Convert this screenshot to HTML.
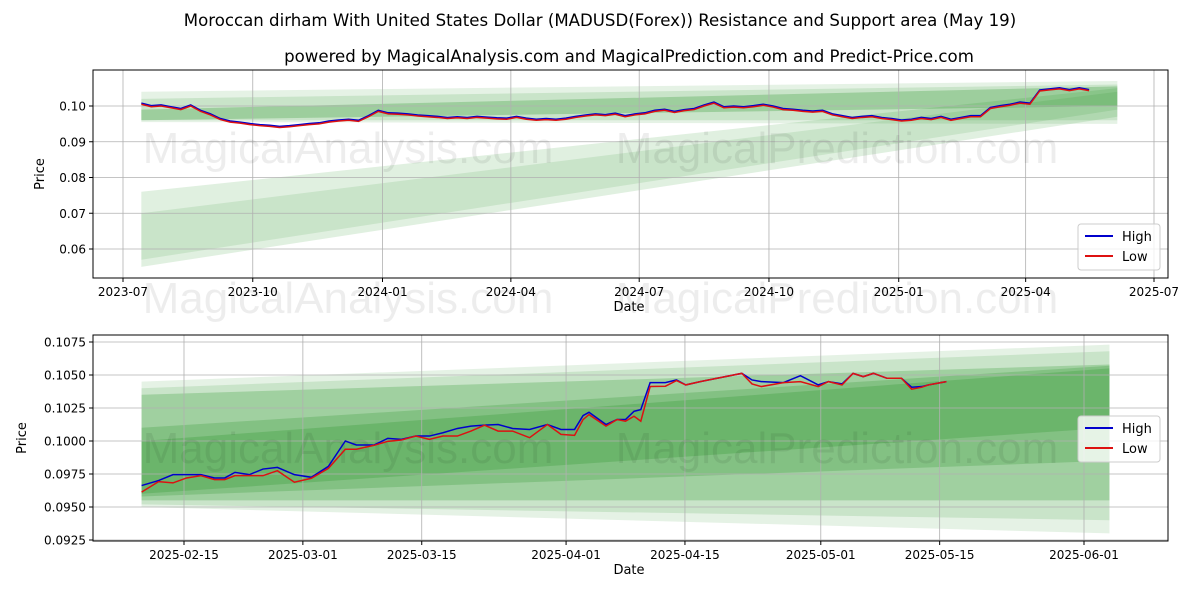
<!DOCTYPE html>
<html><head><meta charset="utf-8"><style>
body{margin:0;background:#fff;font-family:"Liberation Sans","DejaVu Sans",sans-serif}
svg text{font-family:"DejaVu Sans","Liberation Sans",sans-serif}
</style></head><body>
<svg id="svg" width="1200" height="600" viewBox="0 0 1200 600" xmlns="http://www.w3.org/2000/svg">
<rect width="1200" height="600" fill="#fff"/>
<text x="600" y="26" font-size="16.6" text-anchor="middle">Moroccan dirham With United States Dollar (MADUSD(Forex)) Resistance and Support area (May 19)</text>
<text x="629" y="62" font-size="16.6" text-anchor="middle">powered by MagicalAnalysis.com and MagicalPrediction.com and Predict-Price.com</text>
<g id="top"></g>
<g id="bot"></g>
</svg>
<script>
// ---- top chart data ----
const topStart = "2023-07-14";
const topLow = [.1005,.0998,.1000,.0995,.0990,.1000,.0985,.0975,.0962,.0955,.0952,.0948,.0945,.0943,.0940,.0942,.0945,.0948,.0950,.0955,.0958,.0960,.0957,.0970,.0985,.0978,.0977,.0975,.0972,.0970,.0968,.0965,.0967,.0965,.0968,.0966,.0964,.0963,.0968,.0963,.0960,.0962,.0960,.0963,.0968,.0972,.0975,.0973,.0977,.0970,.0975,.0978,.0985,.0988,.0982,.0987,.0990,.1000,.1008,.0995,.0997,.0995,.0998,.1002,.0997,.0990,.0988,.0985,.0983,.0985,.0975,.0970,.0965,.0968,.0970,.0965,.0962,.0958,.0960,.0965,.0962,.0968,.0960,.0965,.0970,.0970,.0993,.0998,.1002,.1008,.1005,.1042,.1045,.1048,.1043,.1048,.1043];
const topHighOffset = 0.0003;
const topYTicks = [0.06,0.07,0.08,0.09,0.10];
const topXTicks = ["2023-07-01","2023-10-01","2024-01-01","2024-04-01","2024-07-01","2024-10-01","2025-01-01","2025-04-01","2025-07-01"];
const topXLabels = ["2023-07","2023-10","2024-01","2024-04","2024-07","2024-10","2025-01","2025-04","2025-07"];
const topBandStart = "2023-07-14", topBandEnd = "2025-06-05";
const topBandHiA = [.1040,.1020,.0990,.0760,.0700];
const topBandLoA = [.0955,.0960,.0960,.0550,.0570];
const topBandHiB = [.1070,.1060,.1055,.1050,.1040];
const topBandLoB = [.0950,.0960,.1000,.0970,.0990];
const topBandAlpha = [0.1,0.12,0.22,0.12,0.1];
// ---- bottom chart data ----
const botStart = "2025-02-10";
const botDays = [0,2,3.7,5.3,7,8.6,9.8,11,12.7,14.3,16,18,20,22,24,25.3,27.4,29,30.6,32.3,33.9,35.5,37.2,38.8,40.4,42,43.7,45.7,47.8,49.4,51,52,52.7,54.7,56,57,58,58.8,59.9,61.7,63,64.1,65.8,70.7,71.9,73,75.6,77.6,79.7,80.9,82.5,83.8,85,86.2,87.8,89.5,90.7,91.9,92.7,94.8];
const botHigh = [.096625,.097,.09745,.09745,.09745,.0972,.0972,.097625,.09745,.097875,.098,.09745,.09725,.098075,.1000,.0997,.0997,.1002,.100125,.100375,.100375,.100625,.10095,.101125,.1012,.10125,.10095,.100875,.10125,.100875,.100875,.101925,.102175,.10125,.101625,.101625,.10225,.102375,.104425,.104425,.104625,.10425,.1045,.105125,.104625,.1045,.104425,.10495,.10425,.1045,.104325,.105125,.104875,.105125,.10475,.10475,.104075,.104125,.10425,.1045];
const botLow = [.096125,.096925,.096825,.0972,.097375,.097075,.097075,.097375,.097375,.097375,.09775,.096875,.097175,.097925,.099375,.099375,.099675,.099975,.100075,.100375,.100125,.100375,.100375,.10075,.1012,.10075,.10075,.10025,.10125,.1005,.100425,.101625,.102,.101125,.101625,.1015,.101875,.1015,.104125,.10415,.104575,.10425,.1045,.105125,.104325,.104125,.104425,.1045,.104125,.1045,.10425,.105125,.104875,.105125,.10475,.10475,.103925,.104075,.10425,.1045];
const botYTicks = [0.0925,0.0950,0.0975,0.1000,0.1025,0.1050,0.1075];
const botXTicks = ["2025-02-15","2025-03-01","2025-03-15","2025-04-01","2025-04-15","2025-05-01","2025-05-15","2025-06-01"];
const botBandStart = "2025-02-10", botBandEnd = "2025-06-04";
const botBandHiA = [.1045,.1040,.1035,.1010,.1000];
const botBandLoA = [.0950,.0952,.0955,.0958,.0960];
const botBandHiB = [.1073,.1068,.1058,.1057,.1055];
const botBandLoB = [.0930,.0940,.0955,.0985,.1010];
const botBandAlpha = [0.1,0.12,0.2,0.18,0.18];

const NS="http://www.w3.org/2000/svg";
const day=d=>Date.parse(d+"T00:00:00Z")/864e5;
function mk(p,tag,attrs){const e=document.createElementNS(NS,tag);for(const k in attrs)e.setAttribute(k,attrs[k]);p.appendChild(e);return e;}

function panel(g,o){
  const xs=d=>o.x0+(d-day(o.xRef0))*(o.x1-o.x0)/(day(o.xRef1)-day(o.xRef0));
  const ys=v=>o.y0+(v-o.v0)*(o.y1-o.y0)/(o.v1-o.v0);
  const a=day(o.bStart),b=day(o.bEnd);
  for(let i=0;i<o.bHiA.length;i++){
    const p=mk(g,"polygon",{points:`${xs(a)},${ys(o.bHiA[i])} ${xs(b)},${ys(o.bHiB[i])} ${xs(b)},${ys(o.bLoB[i])} ${xs(a)},${ys(o.bLoA[i])}`,fill:"rgb(0,128,0)","fill-opacity":o.bAlpha[i]});
    
    
  }
  o.xTicks.forEach((t,i)=>{const x=xs(day(t));
    const l=mk(g,"line",{x1:x,x2:x,y1:o.top,y2:o.bottom,stroke:"#b0b0b0","stroke-width":0.8});
    
    mk(g,"line",{x1:x,x2:x,y1:o.bottom,y2:o.bottom+4,stroke:"#000"});
    const tx=mk(g,"text",{x:x,y:o.bottom+18,"font-size":12,"text-anchor":"middle"});tx.textContent=o.xLabels[i];
    
  });
  o.yTicks.forEach(v=>{const y=ys(v);
    const l=mk(g,"line",{x1:93,x2:1168,y1:y,y2:y,stroke:"#b0b0b0","stroke-width":0.8});
    
    mk(g,"line",{x1:89,x2:93,y1:y,y2:y,stroke:"#000"});
    const tx=mk(g,"text",{x:86,y:y+4.5,"font-size":12,"text-anchor":"end"});tx.textContent=o.yFmt(v);
    
  });
  [[348,"MagicalAnalysis.com"],[837,"MagicalPrediction.com"]].forEach(([x,s])=>{
    [o.wm1,o.wm2].forEach(y=>{if(y==null)return;const t=mk(g,"text",{x:x,y:y,"font-size":44,"text-anchor":"middle",fill:"#000","fill-opacity":0.07,style:"font-family:'Liberation Sans',sans-serif"});t.textContent=s;
    });
  });
  const pts=(arr)=>arr.map((v,i)=>`${xs(o.dates[i])},${ys(v)}`).join(" ");
  const h=mk(g,"polyline",{points:pts(o.high),fill:"none",stroke:"#0000cc","stroke-width":1.5});
  
  const lo=mk(g,"polyline",{points:pts(o.low),fill:"none",stroke:"#dd1111","stroke-width":1.5});
  
  const fr=mk(g,"rect",{x:93,y:o.top,width:1075,height:o.bottom-o.top,fill:"none",stroke:"#000","stroke-width":1});
  
  const xt=mk(g,"text",{x:629,y:o.bottom+33,"font-size":13,"text-anchor":"middle"});xt.textContent="Date";
  
  const yc=(o.top+o.bottom)/2;
  const yt=mk(g,"text",{x:o.ytx,y:yc,"font-size":13,"text-anchor":"middle",transform:`rotate(-90 ${o.ytx} ${yc})`});yt.textContent="Price";
  
  const lg=mk(g,"g",{});
  
  mk(lg,"rect",{x:1078,y:o.leg,width:82,height:46,rx:3,fill:"#fff","fill-opacity":0.8,stroke:"#ccc"});
  [["High","#0000cc"],["Low","#dd1111"]].forEach(([n,c],i)=>{
    const yy=o.leg+12+i*20;
    mk(lg,"line",{x1:1085,x2:1113,y1:yy,y2:yy,stroke:c,"stroke-width":2});
    const t=mk(lg,"text",{x:1122,y:yy+5,"font-size":13});t.textContent=n;
    
  });
}
const tDates=topLow.map((v,i)=>day(topStart)+7*i);
panel(document.getElementById("top"),{x0:123,x1:1154,xRef0:"2023-07-01",xRef1:"2025-07-01",y0:106,y1:249,v0:0.10,v1:0.06,top:70,bottom:278,
  bStart:topBandStart,bEnd:topBandEnd,bHiA:topBandHiA,bLoA:topBandLoA,bHiB:topBandHiB,bLoB:topBandLoB,bAlpha:topBandAlpha,
  xTicks:topXTicks,xLabels:topXLabels,yTicks:topYTicks,yFmt:v=>v.toFixed(2),wm1:163,wm2:313,
  dates:tDates,high:topLow.map(v=>v+topHighOffset),low:topLow,ytx:44,leg:224});
const bDates=botDays.map(d=>day(botStart)+d);
panel(document.getElementById("bot"),{x0:184,x1:1084,xRef0:"2025-02-15",xRef1:"2025-06-01",y0:441,y1:375,v0:0.1,v1:0.105,top:335,bottom:541,
  bStart:botBandStart,bEnd:botBandEnd,bHiA:botBandHiA,bLoA:botBandLoA,bHiB:botBandHiB,bLoB:botBandLoB,bAlpha:botBandAlpha,
  xTicks:botXTicks,xLabels:botXTicks,yTicks:botYTicks,yFmt:v=>v.toFixed(4),wm1:463,wm2:null,
  dates:bDates,high:botHigh,low:botLow,ytx:26,leg:416});
</script>
</body></html>
